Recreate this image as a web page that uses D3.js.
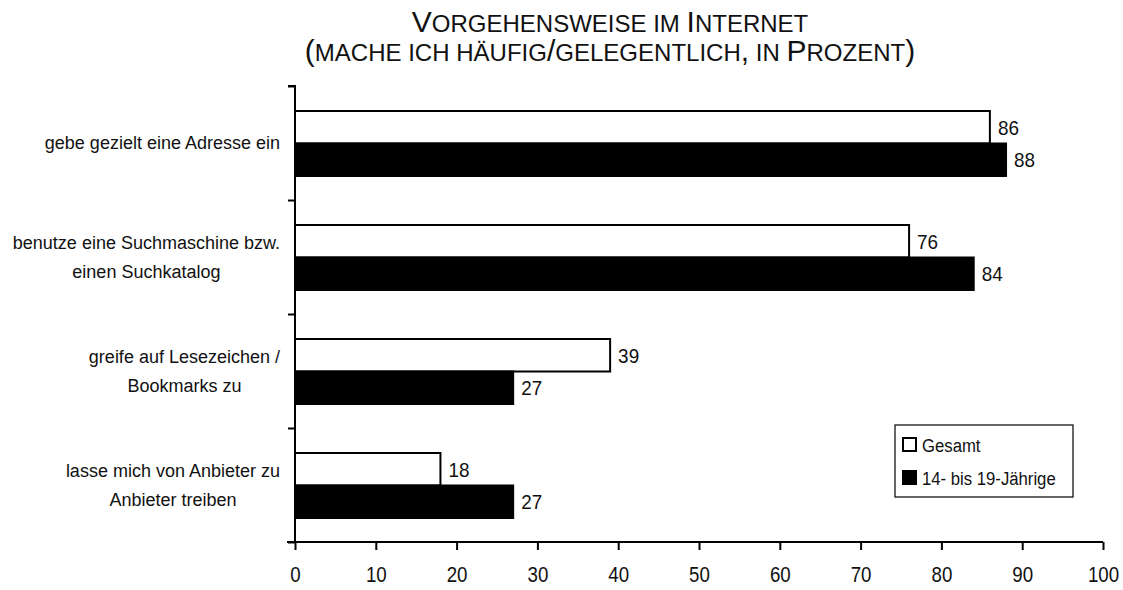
<!DOCTYPE html>
<html>
<head>
<meta charset="utf-8">
<script src="https://cdn.jsdelivr.net/npm/d3@7"></script>
<style>
  body { margin: 0; background: #fff; }
  svg { font-family: "Liberation Sans", Arial, sans-serif; }
</style>
</head>
<body>
<script>
// daten
var categories = [
  ["gebe gezielt eine Adresse ein"],
  ["benutze eine Suchmaschine bzw.", "einen Suchkatalog"],
  ["greife auf Lesezeichen /", "Bookmarks zu"],
  ["lasse mich von Anbieter zu", "Anbieter treiben"]
];
var seriesNames = ["Gesamt", "14- bis 19-Jährige"];
var gesamt = [86, 76, 39, 18];
var jugend = [88, 84, 27, 27];
var xTicks = [0, 10, 20, 30, 40, 50, 60, 70, 80, 90, 100];

var width = 1123, height = 590;
var plotL = 295, plotR = 1103, plotT = 86, plotB = 542;

var svg = d3.select("body").append("svg")
  .attr("width", width)
  .attr("height", height);

// titel in kapitälchen
function smallCaps(sel, str, big, small) {
  str.split("").forEach(function(ch) {
    var isBig = (ch === ch.toUpperCase() && ch !== ch.toLowerCase()) || "()/,".indexOf(ch) >= 0;
    sel.append("tspan")
      .attr("font-size", isBig ? big : small)
      .text(ch.toUpperCase());
  });
}
var t1 = svg.append("text").attr("x", 610).attr("y", 32)
  .attr("text-anchor", "middle").attr("fill", "#111");
smallCaps(t1, "Vorgehensweise im Internet", 30, 24);
var t2 = svg.append("text").attr("x", 610).attr("y", 61)
  .attr("text-anchor", "middle").attr("fill", "#111");
smallCaps(t2, "(mache ich häufig/gelegentlich, in Prozent)", 30, 24);

var x = d3.scaleLinear().domain([0, 100]).range([plotL, plotR]);
var y = d3.scaleBand().domain(d3.range(categories.length)).range([plotT, plotB]);
var y1 = d3.scaleBand().domain([0, 1]).range([25, 90]);

var rows = categories.map(function(c, i) {
  return { label: c, vals: [gesamt[i], jugend[i]] };
});

var g = svg.append("g");
var row = g.selectAll("g.row").data(rows).enter().append("g")
  .attr("class", "row")
  .attr("transform", function(d, i) { return "translate(0," + y(i) + ")"; });

row.selectAll("rect").data(function(d) { return d.vals; }).enter().append("rect")
  .attr("x", x(0))
  .attr("y", function(d, j) { return y1(j); })
  .attr("width", function(d) { return x(d) - x(0); })
  .attr("height", y1.bandwidth())
  .attr("fill", function(d, j) { return j == 0 ? "#fff" : "#000"; })
  .attr("stroke", "#000")
  .attr("stroke-width", 2);

// werte, etwas schmaler gesetzt
row.selectAll("text.val").data(function(d) { return d.vals; }).enter().append("text")
  .attr("class", "val")
  .attr("transform", function(d, j) {
    return "translate(" + (x(d) + 8) + "," + (y1(j) + y1.bandwidth() / 2) + ") scale(0.9,1)";
  })
  .attr("dy", ".35em")
  .attr("font-size", 21)
  .attr("fill", "#111")
  .text(function(d) { return d; });

// kategorien, zeilen zentriert, block rechtsbündig
row.each(function(d) {
  var lab = d3.select(this).append("text")
    .attr("font-size", 18).attr("fill", "#111")
    .attr("text-anchor", "middle");
  var n = d.label.length;
  var spans = lab.selectAll("tspan").data(d.label).enter().append("tspan")
    .attr("y", function(s, k) { return y.bandwidth() / 2 + (k - (n - 1) / 2) * 29; })
    .attr("dy", ".35em")
    .text(function(s) { return s; });
  var maxW = 0;
  spans.each(function() { maxW = Math.max(maxW, this.getComputedTextLength()); });
  spans.attr("x", 280 - maxW / 2);
});

// achsen
var xAxis = svg.append("g")
  .attr("transform", "translate(0," + plotB + ")")
  .call(d3.axisBottom(x).tickValues(xTicks).tickSize(8).tickPadding(16));
xAxis.select(".domain").attr("d", "M" + (plotL - 8) + ",0H" + plotR);
xAxis.selectAll("line, path").attr("stroke", "#000").attr("stroke-width", 2);
xAxis.selectAll("text").attr("font-size", 22).attr("fill", "#111")
  .attr("font-family", null)
  .attr("transform", "scale(0.85,1)");

var yAxis = svg.append("g")
  .attr("transform", "translate(" + plotL + ",0)")
  .call(d3.axisLeft(d3.scaleLinear().domain([0, 4]).range([plotB, plotT]))
    .ticks(4).tickSize(7).tickFormat(""));
yAxis.select(".domain").attr("d", "M-7," + plotT + "H0V" + plotB);
yAxis.selectAll("line, path").attr("stroke", "#000").attr("stroke-width", 2);

// legende
var leg = svg.append("g").attr("transform", "translate(895,425)");
leg.append("rect").attr("width", 178).attr("height", 72)
  .attr("fill", "#fff").attr("stroke", "#000").attr("stroke-width", 1.2);
var li = leg.selectAll("g").data(seriesNames).enter().append("g")
  .attr("transform", function(d, i) { return "translate(8," + (13 + i * 33) + ")"; });
li.append("rect").attr("width", 13).attr("height", 13)
  .attr("fill", function(d, i) { return i == 0 ? "#fff" : "#000"; })
  .attr("stroke", "#000").attr("stroke-width", 2);
li.append("text")
  .attr("transform", "translate(19,7) scale(0.88,1)")
  .attr("dy", ".35em")
  .attr("font-size", 19).attr("fill", "#111")
  .text(function(d) { return d; });
</script>
</body>
</html>
